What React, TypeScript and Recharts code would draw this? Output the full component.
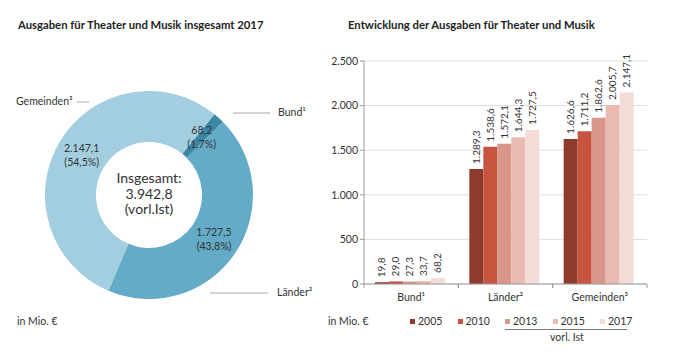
import { Bar, BarChart, CartesianGrid, Cell, LabelList, Pie, PieChart, XAxis, YAxis } from "recharts";

const FONT = "Lato, 'Open Sans', sans-serif";

// donut: share 2017
const pieNames = ["Bund¹", "Länder²", "Gemeinden³"];
const pieValues = [68.2, 1727.5, 2147.1];
const pieColors = ["#3b87a5", "#64abc7", "#a3cee0"];
const pieTotal = 3942.8;

// bars: development per level
const categories = ["Bund¹", "Länder²", "Gemeinden³"];
const years = ["2005", "2010", "2013", "2015", "2017"];
const values2005 = [19.8, 1289.3, 1626.6];
const values2010 = [29.0, 1538.6, 1711.2];
const values2013 = [27.3, 1572.1, 1862.6];
const values2015 = [33.7, 1644.3, 2005.7];
const values2017 = [68.2, 1727.5, 2147.1];
const barColors = ["#8e3b2d", "#c7543e", "#d9978b", "#e8bab2", "#f3dcd8"];
const yTicks = [0, 500, 1000, 1500, 2000, 2500];

const yearValues = [values2005, values2010, values2013, values2015, values2017];
const pieData = pieNames.map((name, i) => ({ name, value: pieValues[i] }));
const barData = categories.map((category, c) => {
  const row: Record<string, string | number> = { category };
  years.forEach((y, i) => (row["y" + y] = yearValues[i][c]));
  return row;
});

function fmt(n: number, d = 1) {
  const [i, f] = n.toFixed(d).split(".");
  const int = i.replace(/\B(?=(\d{3})+(?!\d))/g, ".");
  return f ? int + "," + f : int;
}

const RAD = Math.PI / 180;

function PieLabel(p: any) {
  const r = (p.innerRadius + p.outerRadius) / 2;
  const x = p.cx + r * Math.cos(-p.midAngle * RAD);
  const y = p.cy + r * Math.sin(-p.midAngle * RAD);
  return (
    <text x={x} y={y} textAnchor="middle" fontSize={10.5} fill="#333" fontFamily={FONT}>
      <tspan x={x} dy={-3}>{fmt(p.value)}</tspan>
      <tspan x={x} dy={14}>({fmt(p.percent * 100)}%)</tspan>
    </text>
  );
}

function BarLabel(p: any) {
  const cx = p.x + p.width / 2;
  const y = p.y - 5;
  return (
    <text x={cx} y={y} dy="0.35em" textAnchor="start" fontSize={10} fill="#333" fontFamily={FONT} transform={`rotate(-90, ${cx}, ${y})`}>
      {fmt(Number(p.value))}
    </text>
  );
}

const PLOT_W = 283;

function CatTick(p: any) {
  const half = PLOT_W / categories.length / 2;
  return (
    <g>
      <line x1={p.x - half} x2={p.x - half} y1={p.y} y2={p.y + 4} stroke="#9a9a9a" />
      <line x1={p.x + half} x2={p.x + half} y1={p.y} y2={p.y + 4} stroke="#9a9a9a" />
      <text x={p.x} y={p.y + 17} textAnchor="middle" fontSize={10.5} fill="#333" fontFamily={FONT}>
        {p.payload.value}
      </text>
    </g>
  );
}

const abs = (left: number, top: number, extra: React.CSSProperties = {}): React.CSSProperties => ({
  position: "absolute",
  left,
  top,
  whiteSpace: "nowrap",
  ...extra,
});

export default function App() {
  return (
    <div style={{ position: "absolute", left: 0, top: 0, width: 675, height: 356, background: "#fff", fontFamily: FONT, color: "#333", fontSize: 10.5 }}>
      <div style={abs(18, 18, { fontSize: 11.3, fontWeight: 700, color: "#222" })}>Ausgaben für Theater und Musik insgesamt 2017</div>
      <div style={abs(348, 18, { fontSize: 11.3, fontWeight: 700, color: "#222" })}>Entwicklung der Ausgaben für Theater und Musik</div>

      <div style={abs(0, 0)}>
        <PieChart width={330} height={356} margin={{ top: 0, right: 0, bottom: 0, left: 0 }}>
          <Pie
            data={pieData}
            dataKey="value"
            cx={149}
            cy={195}
            innerRadius={53}
            outerRadius={104}
            startAngle={51}
            endAngle={-309}
            stroke="none"
            labelLine={false}
            label={PieLabel}
            isAnimationActive={false}
          >
            {pieData.map((d, i) => (
              <Cell key={d.name} fill={pieColors[i]} />
            ))}
          </Pie>
        </PieChart>
      </div>

      <div style={abs(99, 170, { width: 100, textAlign: "center", fontSize: 14, lineHeight: "15.5px" })}>
        Insgesamt:
        <br />
        {fmt(pieTotal)}
        <br />
        (vorl.Ist)
      </div>

      <svg width={675} height={356} style={abs(0, 0, { pointerEvents: "none" })}>
        <line x1={77} x2={89} y1={102} y2={102} stroke="#aaa" />
        <line x1={233} x2={270} y1={113} y2={113} stroke="#aaa" />
        <line x1={210} x2={268} y1={293} y2={293} stroke="#aaa" />
      </svg>
      <div style={abs(16, 95)}>{pieNames[2]}</div>
      <div style={abs(278, 106)}>{pieNames[0]}</div>
      <div style={abs(277, 286)}>{pieNames[1]}</div>
      <div style={abs(17, 315)}>in Mio. €</div>

      <div style={abs(320, 0)}>
        <BarChart width={355} height={356} data={barData} margin={{ top: 61, right: 28, bottom: 42, left: 8 }} barGap={0} barCategoryGap={11}>
          <CartesianGrid vertical={false} stroke="#dedede" />
          <XAxis dataKey="category" axisLine={{ stroke: "#9a9a9a" }} tickLine={false} tickSize={0} tickMargin={0} tick={<CatTick />} height={30} interval={0} />
          <YAxis
            domain={[0, 2500]}
            ticks={yTicks}
            width={36}
            tickFormatter={(v) => fmt(Number(v), 0)}
            axisLine={{ stroke: "#9a9a9a" }}
            tickLine={{ stroke: "#9a9a9a" }}
            tickSize={4}
            tick={{ fontSize: 10.5, fill: "#333", fontFamily: FONT }}
          />
          {years.map((y, i) => (
            <Bar key={y} dataKey={"y" + y} fill={barColors[i]} isAnimationActive={false}>
              <LabelList dataKey={"y" + y} content={BarLabel} />
            </Bar>
          ))}
        </BarChart>
      </div>

      <div style={abs(328, 315)}>in Mio. €</div>
      {years.map((y, i) => (
        <div key={y} style={abs(410 + i * 47.5, 315, { fontSize: 10.5 })}>
          <span style={{ display: "inline-block", width: 5, height: 5, background: barColors[i], marginRight: 3, verticalAlign: "1px" }} />
          {y}
        </div>
      ))}
      <div style={abs(505, 329, { width: 122, height: 1, background: "#777" })} />
      <div style={abs(537, 331, { width: 60, textAlign: "center" })}>vorl. Ist</div>
    </div>
  );
}
